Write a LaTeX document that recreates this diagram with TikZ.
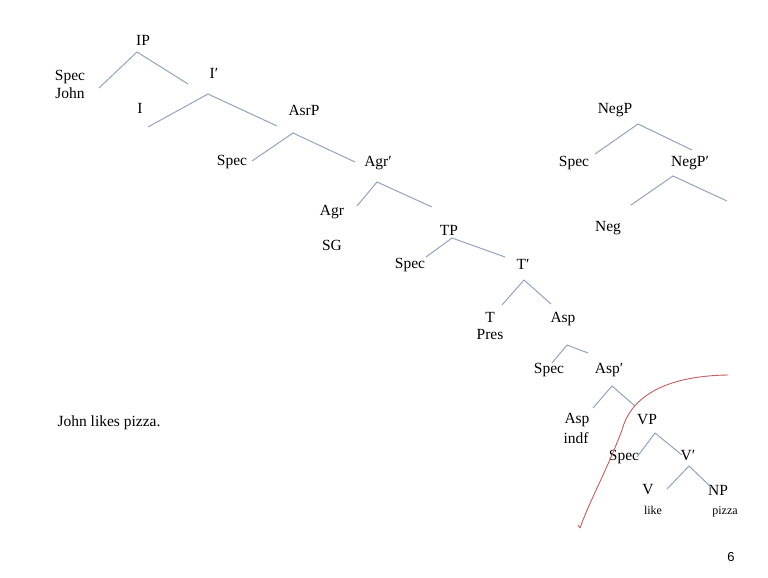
\documentclass[tikz,border=0pt]{standalone}
\usepackage{fontspec}
\setmainfont{Liberation Serif}
\setsansfont{Liberation Sans}
\definecolor{branch}{RGB}{150,163,190}
\definecolor{cut}{RGB}{195,95,95}
\begin{document}
\begin{tikzpicture}[x=1pt,y=-1pt,
  lab/.style={font=\fontsize{15.5}{16}\selectfont, inner sep=0pt, anchor=center},
  sm/.style={font=\fontsize{12}{13}\selectfont, inner sep=0pt, anchor=center},
  br/.style={draw=branch, line width=1pt},
  cutline/.style={draw=cut, line width=0.9pt}]
\fill[white] (0,0) rectangle (768,578);
\useasboundingbox (0,0) rectangle (768,578);

% labels
\node[lab] (IP) at (143,40) {IP};
\node[lab] (spec1) at (70,77) {Spec};
\node[lab] (john) at (70,93) {John};
\node[lab] (Ibar) at (214,73) {I′};
\node[lab] (I) at (140,108) {I};
\node[lab] (AsrP) at (304,110) {AsrP};
\node[lab] (spec2) at (232,162) {Spec};
\node[lab] (Agrbar) at (378,163) {Agr′};
\node[lab] (Agr) at (332,212) {Agr};
\node[lab] (SG) at (332,245) {SG};
\node[lab] (TP) at (449,230) {TP};
\node[lab] (spec3) at (410,265) {Spec};
\node[lab] (Tbar) at (523,264) {T′};
\node[lab] (T) at (490,317) {T};
\node[lab] (Pres) at (490,334) {Pres};
\node[lab] (Asp) at (563,319) {Asp};
\node[lab] (spec4) at (549,370) {Spec};
\node[lab] (Aspbar) at (609,370) {Asp′};
\node[lab] (Asp2) at (577,420) {Asp};
\node[lab] (indf) at (576,438) {indf};
\node[lab] (VP) at (647,420) {VP};
\node[lab] (spec5) at (624,457) {Spec};
\node[lab] (Vbar) at (688,456) {V′};
\node[lab] (V) at (648,490) {V};
\node[sm] (like) at (653,510) {like};
\node[lab] (NP) at (718,490) {NP};
\node[sm] (pizza) at (725,512) {pizza};
\node[lab] (NegP) at (615,110) {NegP};
\node[lab] (spec6) at (574,163) {Spec};
\node[lab] (NegPbar) at (690,163) {NegP′};
\node[lab] (Neg) at (608,228) {Neg};
\node[lab] (sent) at (109,423) {John likes pizza.};
\node[font=\sffamily\fontsize{13}{14}\selectfont, inner sep=0pt] (pg) at (731,557) {6};

% branch points
\coordinate (aIP) at (137,52);  \coordinate (lIP) at (99,88);  \coordinate (rIP) at (188,84);
\coordinate (aI) at (208,94);   \coordinate (lI) at (148,127); \coordinate (rI) at (277,126);
\coordinate (aAsr) at (293,133);\coordinate (lAsr) at (252,161);\coordinate (rAsr) at (355,162);
\coordinate (aAgr) at (377,182);\coordinate (lAgr) at (357,206);\coordinate (rAgr) at (432,207);
\coordinate (aTP) at (452,238); \coordinate (lTP) at (426,257); \coordinate (rTP) at (505,257);
\coordinate (aT) at (524,280);  \coordinate (lT) at (502,305);  \coordinate (rT) at (551,304);
\coordinate (aAsp) at (567,345);\coordinate (lAsp) at (552,363);\coordinate (rAsp) at (588,353);
\coordinate (aAspb) at (612,386);\coordinate (lAspb) at (593,408);\coordinate (rAspb) at (635,406);
\coordinate (aVP) at (655,433); \coordinate (lVP) at (637,457); \coordinate (rVP) at (682,455);
\coordinate (aV) at (689,466);  \coordinate (lV) at (667,489);  \coordinate (rV) at (712,488);
\coordinate (aNeg) at (638,124);\coordinate (lNeg) at (595,154);\coordinate (rNeg) at (692,150);
\coordinate (aNegb) at (673,176);\coordinate (lNegb) at (631,205);\coordinate (rNegb) at (727,201);

\foreach \n in {IP,I,Asr,Agr,TP,T,Asp,Aspb,VP,V,Neg,Negb}
  \draw[br] (l\n) -- (a\n) -- (r\n);

% red cut line
\coordinate (c0) at (728,375);
\coordinate (c1) at (580,528);
\draw[cutline] (c0) .. controls (660,376) and (630,400) .. (622,430)
  .. controls (607,470) and (590,500) .. (c1);
\draw[cutline] (c1) -- ++(-2,-3);
\end{tikzpicture}
\end{document}
